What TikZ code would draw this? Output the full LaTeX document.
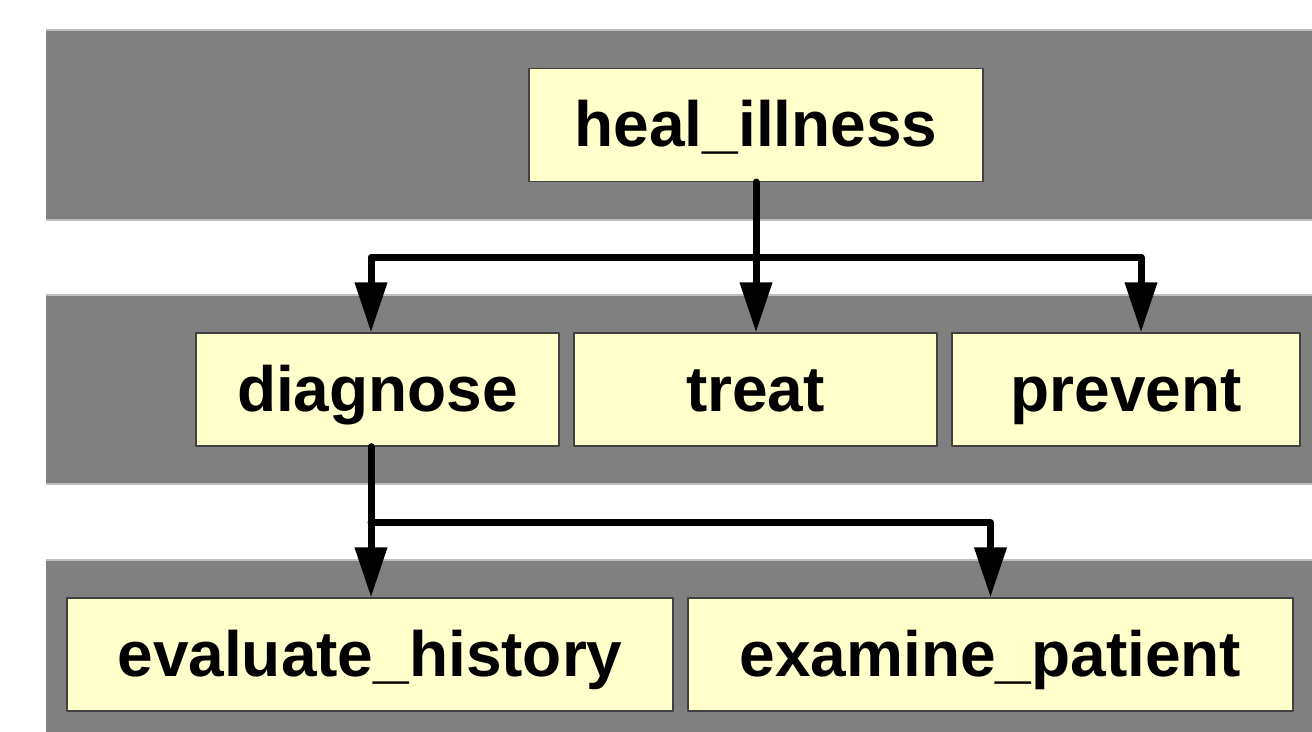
\documentclass[tikz,border=0pt]{standalone}
\usepackage{fontspec}
\setmainfont{Liberation Sans}
\usetikzlibrary{arrows.meta, positioning, calc}

\definecolor{bandgray}{HTML}{808080}
\definecolor{goalfill}{HTML}{FFFFCC}

\begin{document}
\begin{tikzpicture}[x=1pt, y=-1pt, line cap=round, line join=round]
	\tikzset{
		band/.style={fill=bandgray},
		bandedge/.style={draw=gray!50, line width=1.2pt, line cap=butt},
		goal/.style={draw=black!75, fill=goalfill, line width=1.2pt, inner sep=0pt,
			minimum height=113pt, text height=48pt, text depth=5pt,
			font=\fontsize{64}{70}\selectfont\bfseries},
		link/.style={line width=7pt, -{Triangle[length=50pt, width=31pt]}}
	}
	
	\useasboundingbox (0,0) rectangle (1312,731);
	
	% level bands
	\foreach \top/\bot in {30/220, 295/484, 560/735}{
		\fill[band] (46,\top) rectangle (1312,\bot);
		\draw[bandedge] (46,\top) -- (1312,\top) (46,\bot) -- (1312,\bot);
	}
	
	\node[goal, minimum width=454pt] (heal) at (756,125) {heal\_illness};
	
	\node[goal, minimum width=363pt] (diagnose) at (377.5,389.5) {diagnose};
	\node[goal, minimum width=363pt] (treat) at (755.5,389.5) {treat};
	\node[goal, minimum width=348pt] (prevent) at (1126,389.5) {prevent};
	
	\node[goal, minimum width=606pt] (history) at (370,654.5) {evaluate\_history};
	\node[goal, minimum width=605pt] (patient) at (990.5,654.5) {examine\_patient};
	
	\coordinate (fork1) at ($(heal.south)+(0,75)$);
	\draw[link] (heal.south) -- (heal.south |- treat.north);
	\draw[link] (fork1) -| ([xshift=-6.5pt]diagnose.north);
	\draw[link] (fork1) -| ([xshift=15pt]prevent.north);
	
	\coordinate (dbot) at ([xshift=-6.5pt]diagnose.south);
	\coordinate (fork2) at ($(dbot)+(0,76)$);
	\draw[link] (dbot) -- (dbot |- history.north);
	\draw[link] (fork2) -| (patient.north);
	
\end{tikzpicture}
\end{document}
